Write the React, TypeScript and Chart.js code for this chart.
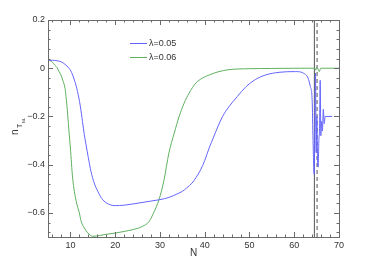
import React, { useEffect, useRef } from "react";
import { Chart, registerables } from "chart.js";

Chart.register(...registerables);

const blueLabel = "λ=0.05";
const greenLabel = "λ=0.06";

const blueN = [5, 6, 7, 8, 9, 9.5, 10, 10.5, 11, 11.6, 12.2, 12.7, 13.1, 13.5, 14, 14.6, 15.3, 16.1, 17, 18, 19, 20, 22, 24, 26, 28, 30, 32, 34, 35, 36, 37.2, 38, 39.1, 40, 41, 42, 43, 44, 45.4, 47.3, 49.1, 51.4, 53.6, 56.6, 60.3, 62.1, 63.1, 63.6, 64, 64.2, 64.45, 64.6, 64.75, 64.9, 65.05, 65.2, 65.35, 65.5, 65.65, 65.8, 65.95, 66.1, 66.3, 66.5, 66.7, 66.9, 68.5];
const blueV = [0.033, 0.033, 0.031, 0.026, 0.013, 0.004, -0.008, -0.028, -0.055, -0.097, -0.155, -0.221, -0.275, -0.318, -0.37, -0.428, -0.475, -0.51, -0.54, -0.558, -0.567, -0.57, -0.568, -0.563, -0.557, -0.551, -0.545, -0.536, -0.52, -0.511, -0.496, -0.476, -0.455, -0.421, -0.383, -0.331, -0.285, -0.24, -0.2, -0.16, -0.117, -0.079, -0.046, -0.028, -0.017, -0.014, -0.021, -0.041, -0.076, -0.13, -0.3, -0.44, -0.25, -0.02, -0.35, -0.2, -0.38, -0.41, -0.3, -0.25, -0.05, -0.28, -0.22, -0.26, -0.17, -0.23, -0.2, -0.2];

const greenN = [5, 5.5, 6, 6.5, 7, 7.5, 7.9, 8.4, 8.8, 9.1, 9.4, 9.7, 10, 10.5, 11.3, 12, 12.4, 13.1, 13.9, 15, 16.5, 18, 20.2, 22, 23.8, 26.1, 27.6, 28.7, 29.8, 30.9, 32, 33.2, 34.3, 35.4, 36.5, 38, 39.5, 41, 43, 45.4, 50, 55, 60, 64.6, 64.8, 65.0, 65.3, 65.6, 65.9, 66.3, 70];
const greenV = [0.033, 0.031, 0.025, 0.013, 0.003, -0.015, -0.028, -0.055, -0.083, -0.13, -0.193, -0.265, -0.331, -0.455, -0.552, -0.6, -0.635, -0.662, -0.683, -0.697, -0.694, -0.689, -0.683, -0.677, -0.67, -0.656, -0.635, -0.595, -0.545, -0.465, -0.352, -0.269, -0.2, -0.145, -0.104, -0.062, -0.041, -0.028, -0.015, -0.006, -0.002, -0.001, 0, 0, -0.008, 0.002, -0.002, -0.014, 0, 0, 0];

const solidLineN = 64.5;
const dashedLineN = 65.1;

const xTicks = [10, 20, 30, 40, 50, 60, 70];
const yTicks = [-0.6, -0.4, -0.2, 0, 0.2];
const xMin = 5, xMax = 70, yMin = -0.7, yMax = 0.2;
const xMinorStep = 2;
const yMinorStep = 0.04;

const BLUE = "#6464ff";
const GREEN = "#5fb05f";
const AXIS = "#6a6a6a";
const TEXT = "#333333";
const FONT = "'Liberation Sans', Arial, sans-serif";

const toPts = (xs: number[], ys: number[]) => xs.map((x, i) => ({ x, y: ys[i] }));

const framePlugin = {
  id: "frame",
  afterDraw(chart: any) {
    const { ctx, chartArea: a, scales } = chart;
    const xs = scales.x, ys = scales.y;
    ctx.save();
    ctx.strokeStyle = AXIS;
    ctx.lineWidth = 1;
    ctx.strokeRect(Math.round(a.left) + 0.5, Math.round(a.top) + 0.5, Math.round(a.right - a.left), Math.round(a.bottom - a.top));
    const tick = (x1: number, y1: number, x2: number, y2: number) => {
      ctx.beginPath();
      ctx.moveTo(x1, y1);
      ctx.lineTo(x2, y2);
      ctx.stroke();
    };
    for (let v = 6; v <= xMax + 1e-6; v += xMinorStep) {
      const px = Math.round(xs.getPixelForValue(v)) + 0.5;
      const major = Math.abs(v % 10) < 1e-6;
      const len = major ? 5 : 2.5;
      tick(px, a.bottom, px, a.bottom - len);
      tick(px, a.top, px, a.top + len);
    }
    for (let k = 0; k <= 22; k++) {
      const v = yMin + k * yMinorStep + 0.02;
      if (v > yMax + 1e-6) break;
      const py = Math.round(ys.getPixelForValue(v)) + 0.5;
      const major = yTicks.some((t) => Math.abs(t - v) < 1e-6);
      const len = major ? 5 : 2.5;
      tick(a.left, py, a.left + len, py);
      tick(a.right, py, a.right - len, py);
    }
    const items = [
      { label: blueLabel, color: BLUE },
      { label: greenLabel, color: GREEN },
    ];
    ctx.font = `9px ${FONT}`;
    ctx.textBaseline = "middle";
    items.forEach((it, i) => {
      const y = 43.5 + i * 14;
      ctx.strokeStyle = it.color;
      tick(130, y, 147, y);
      ctx.fillStyle = TEXT;
      ctx.fillText(it.label, 149, y);
    });
    ctx.fillStyle = TEXT;
    ctx.translate(18, 135);
    ctx.rotate(-Math.PI / 2);
    ctx.textBaseline = "alphabetic";
    ctx.font = `10px ${FONT}`;
    ctx.fillText("n", 0, 0);
    ctx.font = `7px ${FONT}`;
    ctx.fillText("T", 7, 4);
    ctx.font = `4px ${FONT}`;
    ctx.fillText("NL", 12, 7);
    ctx.restore();
  },
};

export default function App() {
  const ref = useRef<HTMLCanvasElement>(null);
  useEffect(() => {
    document.body.style.margin = "0";
    const line = { borderWidth: 1, pointRadius: 0, fill: false, cubicInterpolationMode: "monotone" as const };
    const chart = new Chart(ref.current!, {
      type: "line",
      data: {
        datasets: [
          { label: blueLabel, data: toPts(blueN, blueV), borderColor: BLUE, ...line },
          { label: greenLabel, data: toPts(greenN, greenV), borderColor: GREEN, ...line },
          { label: "solid", data: toPts([solidLineN, solidLineN], [yMin, yMax]), borderColor: "#555", borderWidth: 1, pointRadius: 0 },
          { label: "dashed", data: toPts([dashedLineN, dashedLineN], [yMin, yMax]), borderColor: "#555", borderWidth: 1, borderDash: [4, 3], pointRadius: 0 },
        ],
      },
      options: {
        responsive: false,
        animation: false,
        layout: { padding: { top: 20, right: 35, left: 0, bottom: 8 } },
        plugins: { legend: { display: false }, tooltip: { enabled: false } },
        scales: {
          x: {
            type: "linear",
            min: xMin,
            max: xMax,
            afterBuildTicks: (s: any) => { s.ticks = xTicks.map((v) => ({ value: v })); },
            afterFit: (s: any) => { s.height = 22; },
            grid: { display: false, drawTicks: false },
            border: { display: false },
            ticks: { color: TEXT, font: { size: 9, family: FONT }, padding: 3, maxRotation: 0 },
            title: { display: true, text: "N", color: TEXT, font: { size: 10, family: FONT }, padding: { top: 0, bottom: 0 } },
          },
          y: {
            type: "linear",
            min: yMin,
            max: yMax,
            afterBuildTicks: (s: any) => { s.ticks = yTicks.map((v) => ({ value: v })); },
            afterFit: (s: any) => { s.width = 48; },
            grid: { display: false, drawTicks: false },
            border: { display: false },
            ticks: {
              color: TEXT,
              font: { size: 9, family: FONT },
              padding: 3,
              callback: (v: any) => (v === 0 ? "0" : (v < 0 ? "−" : "") + Math.abs(v).toFixed(1)),
            },
          },
        },
      },
      plugins: [framePlugin],
    } as any);
    return () => chart.destroy();
  }, []);
  return <canvas ref={ref} width={374} height={267} style={{ display: "block" }} />;
}
